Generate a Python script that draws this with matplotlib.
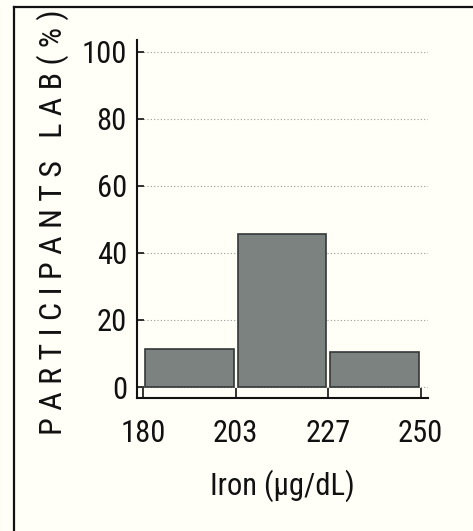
import matplotlib
matplotlib.use("Agg")
import matplotlib.pyplot as plt
from matplotlib import font_manager
from matplotlib.lines import Line2D

# ---- data ----
bin_edges = [180, 203.33, 226.67, 250]
tick_labels = ["180", "203", "227", "250"]
percentages = [11.3, 45.7, 10.3]
y_ticks = [0, 20, 40, 60, 80, 100]
x_label = "Iron (µg/dL)"
y_label = "P A R T I C I P A N T S   L A B ( % )"

# ---- font ----
available = {f.name for f in font_manager.fontManager.ttflist}
font = "Liberation Sans"
for cand in ["Liberation Sans Narrow", "Roboto Condensed", "Liberation Sans"]:
    if cand in available:
        font = cand
        break
plt.rcParams["font.family"] = [font, "DejaVu Sans"]

fs = 22

fig = plt.figure(figsize=(4.73, 5.31), dpi=100, facecolor="#fffef7")
ax = fig.add_axes([0.289, 0.2499, 0.6165, 0.6748])
ax.set_facecolor("none")

centers = [(bin_edges[i] + bin_edges[i + 1]) / 2 for i in range(len(percentages))]
width = (bin_edges[1] - bin_edges[0]) * 0.96
ax.bar(centers, percentages, width=width, color="#7b827f", edgecolor="#333837",
       linewidth=1.2, zorder=3)

ax.set_xlim(178.33, 251.92)
ax.set_ylim(-3.37, 103.5)
ax.set_xticks(bin_edges)
ax.set_xticklabels(tick_labels)
ax.set_yticks(y_ticks)
ax.set_yticklabels([str(v) for v in y_ticks])

ax.grid(axis="y", linestyle=(0, (1, 2)), color="#9a9a9a", linewidth=0.8, zorder=0)
for s in ["top", "right"]:
    ax.spines[s].set_visible(False)
for s in ["left", "bottom"]:
    ax.spines[s].set_linewidth(1.5)
    ax.spines[s].set_color("#111111")

ax.tick_params(axis="y", direction="in", length=4.8, width=1.2, pad=7,
               labelsize=fs, colors="#111111")
ax.tick_params(axis="x", direction="in", length=7.2, width=1.2, pad=15,
               labelsize=fs, colors="#111111")

ax.set_xlabel(x_label, fontsize=fs, labelpad=15, color="#111111")
ax.set_ylabel(y_label, fontsize=fs + 1, color="#111111")
ax.yaxis.set_label_coords(-0.232, 0.492)

# outer frame (top and left edges of the scanned box)
fig.add_artist(Line2D([14 / 473, 14 / 473], [0, 1 - 6.7 / 531], transform=fig.transFigure,
                      color="#111111", linewidth=1.6))
fig.add_artist(Line2D([14 / 473, 1], [1 - 6.7 / 531, 1 - 6.7 / 531], transform=fig.transFigure,
                      color="#111111", linewidth=1.6))

fig.savefig("out.png", dpi=100, facecolor=fig.get_facecolor())
